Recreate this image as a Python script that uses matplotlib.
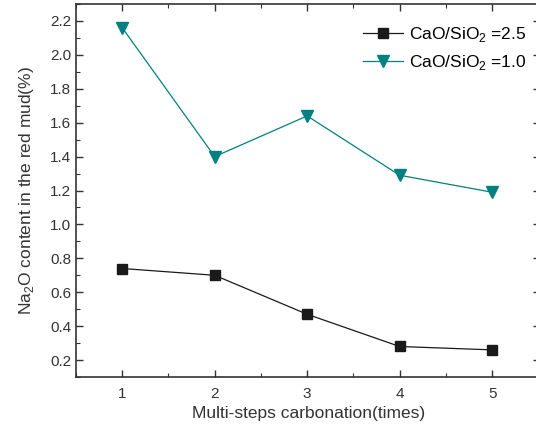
import matplotlib.pyplot as plt
from matplotlib.ticker import MultipleLocator

plt.rcParams['font.family'] = ['Liberation Sans', 'DejaVu Sans']
plt.rcParams['mathtext.fontset'] = 'custom'
plt.rcParams['mathtext.rm'] = 'Liberation Sans'

# carbonation steps and Na2O content (%) in the red mud
steps = [1, 2, 3, 4, 5]
na2o_ratio_25 = [0.74, 0.70, 0.47, 0.28, 0.26]
na2o_ratio_10 = [2.16, 1.40, 1.64, 1.29, 1.19]
labels = ['CaO/SiO$_2$ =2.5', 'CaO/SiO$_2$ =1.0']

fig = plt.figure(figsize=(5.36, 4.32), dpi=100)
# right edge of the frame runs just past the canvas
ax = fig.add_axes([0.1418, 0.1273, 0.866, 0.8634])

ax.plot(steps, na2o_ratio_25, color='#1a1a1a', lw=0.9, marker='s', ms=6.5, label=labels[0])
ax.plot(steps, na2o_ratio_10, color='#008080', lw=0.9, marker='v', ms=8.5, label=labels[1])

ax.set_xlim(0.5, 5.52)
ax.set_ylim(0.1, 2.3)
ax.xaxis.set_major_locator(MultipleLocator(1))
ax.xaxis.set_minor_locator(MultipleLocator(0.5))
ax.yaxis.set_major_locator(MultipleLocator(0.2))
ax.yaxis.set_minor_locator(MultipleLocator(0.1))
ax.yaxis.set_major_formatter(plt.FormatStrFormatter('%.1f'))
ax.tick_params(which='both', direction='in', top=True, right=True, labelsize=11, colors='#333333')
ax.tick_params(which='major', length=5, width=1)
ax.tick_params(which='minor', length=3, width=0.8)
ax.tick_params(axis='x', pad=7)
for s in ax.spines.values():
    s.set_linewidth(1.2)
    s.set_color('#333333')

ax.set_xlabel('Multi-steps carbonation(times)', fontsize=12.5, color='#333333', labelpad=4)
ax.set_ylabel('Na$_2$O content in the red mud(%)', fontsize=12.5, color='#333333', labelpad=10)

ax.legend(loc='upper right', frameon=False, fontsize=12.5, handlelength=2.3,
          handletextpad=0.4, bbox_to_anchor=(1.005, 0.985), labelspacing=0.5)

fig.savefig('out.png', dpi=100)
